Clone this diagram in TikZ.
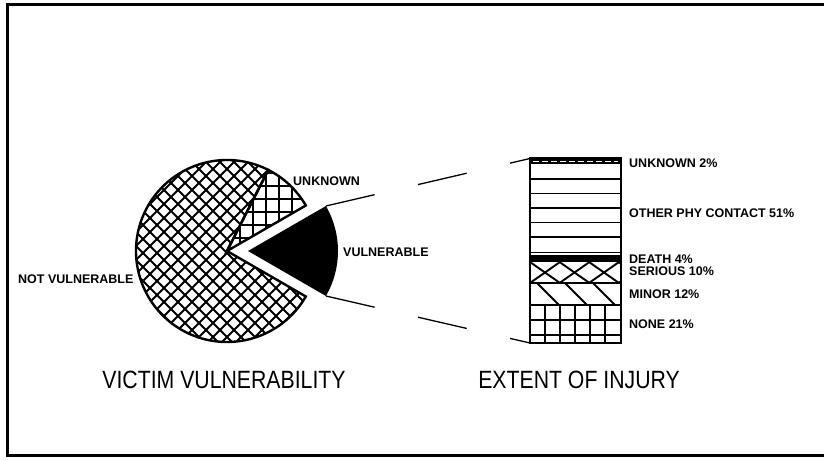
\documentclass[tikz,border=0pt]{standalone}
\usepackage{fontspec}
\setmainfont{Liberation Sans}
\newfontfamily\titlefont[FakeStretch=0.85]{Liberation Sans}
\usetikzlibrary{calc}

\begin{document}
\begin{tikzpicture} [x=1pt, y=1pt,
	lbl/.style={font=\fontsize{12.5}{13}\selectfont\bfseries, inner sep=0pt, anchor=base west},
	ttl/.style={font=\titlefont\fontsize{25}{26}\selectfont, inner sep=0pt, anchor=base},
	hatch/.style={line width=1.9pt},
	outline/.style={line width=2.4pt},
	link/.style={line width=1.3pt, dash pattern=on 50pt off 44.5pt}]
	
	\useasboundingbox (0,0) rectangle (824,459);
	\draw[line width=3pt] (824,454) -- (7,454) -- (7,4) -- (824,4);
	
	\coordinate (c) at (227,208);
	\coordinate (v) at (248,208);
	
	% not vulnerable
	\begin{scope}
		\clip (c) -- ++(63:91) arc (63:330:91) -- cycle;
		\foreach \k in {-21,...,21}
		{
			\draw[hatch] ($(c)+(\k*14,-100)$) -- ++(200,200);
			\draw[hatch] ($(c)+(\k*14,-100)$) -- ++(-200,200);
		}
	\end{scope}
	\draw[outline] (c) -- ++(63:91) arc (63:330:91) -- cycle;
	
	% unknown
	\begin{scope}
		\clip (c) -- ++(30:91) arc (30:63:91) -- cycle;
		\foreach \k in {0,...,8}
		{
			\draw[hatch] ($(c)+(\k*13,0)$) -- ++(0,95);
			\draw[hatch] ($(c)+(0,\k*13)$) -- ++(95,0);
		}
	\end{scope}
	\draw[outline] (c) -- ++(30:91) arc (30:63:91) -- cycle;
	
	% vulnerable
	\fill (v) -- ++(-30:90) arc (-30:30:90) -- cycle;
	\coordinate (vtop) at ($(v)+(30:90)$);
	\coordinate (vbot) at ($(v)+(-30:90)$);
	
	% injury bar
	\coordinate (btl) at (530,300.5);
	\coordinate (bbl) at (530,116);
	\fill (530,295) rectangle (621,300.5);
	\draw[white, line width=1.2pt, dash pattern=on 6pt off 3pt] (533,297.7) -- (618,297.7);
	\foreach \y in {280,265.5,251,236.5,222,206.5}
		\draw[line width=1.7pt] (530,\y) -- (621,\y);
	\fill (530,197) rectangle (621,204);
	\begin{scope}
		\clip (530,176) rectangle (621,197);
		\foreach \k in {0,...,4}
		{
			\draw[hatch] (500.5+\k*29.5,197) -- ++(30,-21);
			\draw[hatch] (500.5+\k*29.5,176) -- ++(30,21);
		}
	\end{scope}
	\begin{scope}
		\clip (530,154) rectangle (621,176);
		\foreach \k in {0,...,4}
			\draw[hatch] (509+\k*28,176) -- ++(22,-22);
	\end{scope}
	\foreach \x in {545,560,575,590,605}
		\draw[hatch] (\x,116) -- (\x,154);
	\foreach \y in {139,124}
		\draw[hatch] (530,\y) -- (621,\y);
	\foreach \y in {176,154}
		\draw[hatch] (530,\y) -- (621,\y);
	\draw[outline] (bbl) rectangle (621,300.5);
	
	\draw[link] (vtop) -- (btl);
	\draw[link] (vbot) -- (bbl);
	
	% labels
	\node[lbl] (unk) at (293,274) {UNKNOWN};
	\node[lbl] (vul) at (343,203) {VULNERABLE};
	\node[lbl] (notvul) at (18,176) {NOT VULNERABLE};
	\node[lbl] (iunk) at (629,292) {UNKNOWN 2\%};
	\node[lbl] (iother) at (629,242) {OTHER PHY CONTACT 51\%};
	\node[lbl] (ideath) at (629,196) {DEATH 4\%};
	\node[lbl] (iser) at (629,184) {SERIOUS 10\%};
	\node[lbl] (iminor) at (629,161) {MINOR 12\%};
	\node[lbl] (inone) at (629,131) {NONE 21\%};
	\node[ttl] (vtitle) at (224,71) {VICTIM VULNERABILITY};
	\node[ttl] (ititle) at (579,71) {EXTENT OF INJURY};
	
\end{tikzpicture}
\end{document}
